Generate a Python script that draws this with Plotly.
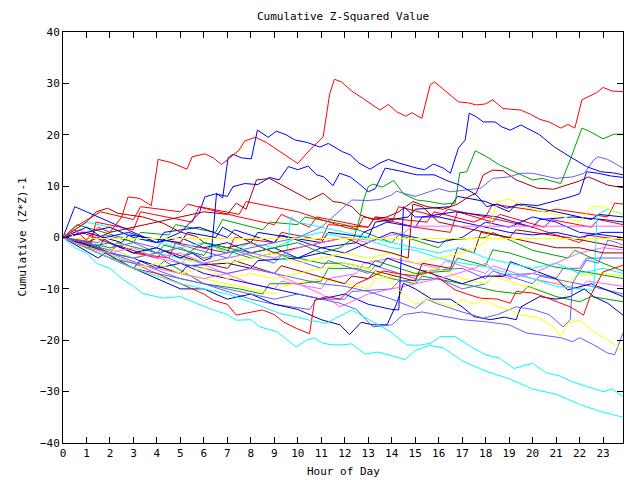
import plotly.graph_objects as go

HOUR_TICKS = list(range(24))

RED_TOP_H = [0,0.5,1,1.5,2,2.5,2.77,3.27,3.76,4.05,4.6,5.28,5.5,6.04,6.4,6.75,7.1,7.5,7.74,8.2,8.66,9.3,10.0,10.5,11.08,11.36,11.56,11.85,12.3,12.8,13.5,13.86,14.2,14.6,14.86,15.28,15.64,15.82,16.3,16.84,17.27,17.6,18.0,18.3,18.74,19.5,19.9,20.3,20.7,21.2,21.5,21.8,22.1,22.4,22.73,23.0,23.4,23.85]
RED_TOP_V = [0,1.5,-0.5,2,1,4,7.9,7.6,6.2,15.2,14.6,13.3,15.7,16.3,15.5,14.2,15.5,17,18.8,19.5,18.5,16.5,14.4,17,19.6,28,30.8,30.3,28.5,27,24.8,25.9,24.5,23.6,24.3,23.2,29.7,30.3,28.5,26.4,26.2,25.8,26,26.8,25.1,24.8,24,23,22.5,21.3,22,21.3,26.8,27.5,28.2,29.2,28.5,28.4]

BLUE_TOP_H = [0,1,2,3,4,5,5.5,6.0,6.3,6.45,6.54,6.8,7.03,7.24,7.6,8.02,8.28,8.74,9.09,9.5,9.87,10.4,10.94,11.3,11.9,12.23,12.6,13.08,13.5,13.86,14.3,15.07,15.4,15.78,16.2,16.5,16.84,17.13,17.3,17.6,17.9,18.4,18.7,19.05,19.5,20.3,20.9,21.6,22.3,22.9,23.4,23.85]
BLUE_TOP_V = [0,2,-1,-3,-2,-4,-3,-4.5,-4,4,8.6,7.7,15.5,16.2,15.5,15.3,20.9,19.5,20.7,20,19,18.5,17.6,18.3,16.7,16.1,14.5,13.3,14.5,15.2,14.5,13.5,13.2,14.3,13.5,12.5,17.4,19,24.2,23.5,22.5,22.5,21.5,20.9,21.9,20,17.7,15.7,13.8,12.8,12.6,12.2]

BLUE2_H = [0,1,2,3,4,5,5.8,6.04,6.5,7.0,7.24,7.74,8.3,8.8,9.2,9.6,10.0,10.44,10.8,11.1,11.5,11.78,12.23,12.6,13.0,13.3,13.72,14.3,15.07,15.8,16.4,16.9,17.6,18.05,18.5,18.9,19.5,20.2,20.9,21.6,22.0,22.3,22.8,23.3,23.85]
BLUE2_V = [0,1,2,0,-1,1,4.7,7.9,8.5,8,9.9,10.5,10.3,11.7,11.2,13.8,13.2,13.9,12.2,11.8,10.1,12.5,11.8,10.5,8.9,9.5,13.5,13,12.2,12.2,11,10.2,8.3,6,6.5,5.7,6.5,6.2,7,7.9,8.5,12.8,12.5,12,11.7]

DARKRED1_H = [0,1,2,3,4,5,6,7,7.38,7.8,8.24,8.8,9.4,9.94,10.5,11.08,11.5,11.85,12.3,12.65,13.2,13.8,14.3,14.9,15.5,16.2,16.8,17.3,17.6,17.9,18.3,18.74,19.3,19.7,20.2,20.9,21.5,22.0,22.38,22.8,23.2,23.85]
DARKRED1_V = [0,-1,1,2,3,4,5,4.5,6.7,5.5,11.2,11.5,10,8.6,7.3,8.6,7,6.8,6,4.4,3.5,4,5,7,6,5.5,6.5,8,8.6,12.2,13.1,13,11.2,10.5,9.6,9.4,10.2,11,11.8,11,10.2,9.7]

DARKRED2_H = [0,1,1.42,1.9,2.34,3.4,4.26,4.97,5.68,6,7,8,9,10,11,12,13,14,14.7,14.9,15.3,16,17,18,19,20,21,22,23,23.85]
DARKRED2_V = [0,3,5,5.7,4.7,4,2.8,1.1,0.2,-1,-2,-1,-3,-2,-1,0,-2,-3,-4,6.5,6,3,2,1,0,-1,-2,-2,-3,-3]

GREEN_TOP_H = [0,1,2,3,4,5,6,7,8,9,10,11,11.8,12.4,12.65,12.8,13.0,13.2,13.6,14.08,14.5,15.07,15.6,16.2,16.7,16.9,17.2,17.56,18.05,18.6,19.2,19.6,20.0,20.4,20.9,21.2,21.6,22.1,22.45,23.0,23.45,23.85]
GREEN_TOP_V = [0,-2,-1,-3,-2,-4,-1,-2,-3,-2,-1,-3,-2,0,4,7.3,9.9,10.4,9.8,11.1,8.5,7.3,7,6.5,6.7,12.6,12.8,16.9,15.7,14.1,12.8,12,11.2,11.5,10.9,10.5,15.1,21.3,20.6,19.2,20.1,20.1]

LBLUE_TOP_H = [0,1,2,3,4,5,6,7,8,9,10,11,12,12.3,13,13.5,14,14.2,15,16,16.5,17,17.8,18.3,19,19.5,20,21,21.7,22.2,22.6,22.8,23.2,23.85]
LBLUE_TOP_V = [0,-1,-2,-1,-3,-2,-4,-3,-2,-1,0,2,6,7.3,7.2,7.4,8.3,9,8,9.5,8.9,9.2,9.6,11.5,11.8,12.5,12.5,11.5,11.8,12.5,15.1,15.7,15.2,13.5]

CYAN_LOW_H = [0,0.5,1,1.42,2,2.5,3,3.4,4.26,5,5.68,6.4,7,7.38,8,8.38,9.09,9.66,9.94,10.36,10.7,11.08,11.5,11.85,12.3,12.87,13.4,13.93,14.57,15.0,15.6,16.2,16.5,17,18,19,20,21,22,23,23.85]
CYAN_LOW_V = [0,-2,-3,-5,-6,-8,-9.5,-10.9,-11.8,-11.5,-12.8,-14.1,-15,-16.1,-16,-17.4,-18.3,-20.3,-21.3,-20,-19.5,-20.6,-20.9,-20.9,-20.7,-22.7,-22.3,-22.9,-23.8,-22,-21,-21.5,-22.5,-24,-26,-27.5,-29.5,-30.5,-32.5,-34,-35]

CYAN_UP_H = [0,1,2,3,4,5,6,7,7.95,8.5,9.23,10,10.5,11.2,11.85,12.3,13.08,13.93,14.64,15.1,15.64,16.06,16.7,17.1,17.5,18.05,18.6,19.2,20,20.6,21.2,21.7,22.3,23,23.4,23.85]
CYAN_UP_V = [0,-2,-4,-6,-7.5,-9,-10,-11,-12.5,-13.5,-14.8,-15.5,-16.1,-16.7,-15.1,-14.1,-16.1,-18.3,-20.9,-21,-20.6,-19.3,-19.3,-20.5,-21.6,-22.9,-23.5,-25.5,-24.5,-26.4,-27,-28.1,-29,-30,-29.5,-31]

YELLOW_FLAT_H = [0,0.3,0.55,23.85]
YELLOW_FLAT_V = [0,0.8,-0.2,-0.2]

MAGENTA_FLAT_H = [0,1,2,3,4,5,6,7,8,9,10,11,12,13,14,14.5,14.86,23.85]
MAGENTA_FLAT_V = [0,-2,-3,-2,-4,-3,-5,-4,-3,-4,-2,-1,0,-1,0.5,0.8,2.2,2.2]

YELLOW_LOW_H = [0,1,2,3,4,5,6,7,8,9,10,11,12,13,13.5,14,14.6,15,15.6,16.6,17,17.5,18,18.5,19,19.5,20.2,20.9,21.2,21.5,22,22.5,23.2,23.85]
YELLOW_LOW_V = [0,-2,-4,-6,-5,-7,-6,-8,-7,-8,-7,-6,-5,-6,-7,-9,-11.5,-13,-12,-13.5,-12,-13,-12,-13.5,-14,-15.1,-15.5,-17.4,-19.3,-16.7,-16.1,-18,-20,-21.9]

LBLUE_LOW_H = [0,1,2,3,4,5,6,7,8,9,10,11,11.8,12.5,13.2,14,14.5,15.3,16,17,18,19,19.75,20.5,21.2,21.7,22,22.6,23.2,23.5,23.85]
LBLUE_LOW_V = [0,-2,-4,-5,-7,-8,-9,-10,-11,-12,-11,-12,-12.8,-14,-17.4,-17,-15,-14.5,-15.1,-16,-16.4,-17,-18.6,-19,-19.5,-20.3,-19.5,-20.9,-22.5,-22.8,-18.6]

LBLUE_JUMP_H = [0,1,2,3,4,5,6,7,8,9,10,11,12,13,14,15,15.5,16,17,17.9,18.5,19.3,20,20.7,21.3,21.6,21.7,22.3,22.8,23.2,23.6,23.85]
LBLUE_JUMP_V = [0,-1,-3,-4,-3,-5,-6,-7,-6,-7,-8,-9,-9.5,-10.5,-12,-13.8,-12,-13,-14.5,-15.7,-15,-13.5,-14,-15,-17.4,-16,-8.9,-4.4,-5,-0.5,-1,-1.5]

RED_LOW_H = [0,1,2,3,4,5,6,6.4,7,7.38,8,8.5,9,9.37,9.94,10.5,10.72,11.2,11.8,12.5,13,13.65,14.2,15,15.64,16.2,16.7,17.2,17.77,18.5,19.05,19.3,20,20.3,21,21.6,22.17,22.45,23,23.85]
RED_LOW_V = [0,-2,-4,-6,-7,-9,-11,-12.2,-13,-15.1,-14.5,-14.1,-15,-16.4,-17.7,-18.7,-12.2,-11.5,-12,-9,-8,-6.5,-7,-7.5,-6.7,-8.5,-10.2,-11,-11.8,-12,-12.8,-10.5,-10.8,-11.2,-12.5,-13.5,-15.1,-11.5,-6.7,-5.4]

RED_C1_H = [0,1.2,1.4,3,3.3,5.5,5.8,7.5,7.8,10,12,12.5,12.8,14,14.3,16,16.4,18,18.3,20.5,21,23.2,23.5,23.85]
RED_C1_V = [0,-1,3,1.5,5,3,6,4.5,7,5,2,1.5,4,3,6,4,5.5,4,6.5,5,5.5,4,6.7,6.5]
RED_C3_H = [0,0.8,3,4.5,4.8,7,7.3,9,9.3,11,11.3,13,13.3,15.5,15.8,17.5,18,20,22,22.3,23.85]
RED_C3_V = [0,1,-3,-4,-1,-3,0,-1,1,-0.5,2.5,2,4,3,5,3,4,2,-1,0.5,-0.5]
RED_C4_H = [0,0.5,1.6,3,3.3,5,5.3,7.5,9,9.3,10.5,10.8,13,13.3,15,16.5,16.8,18.3,18.6,20.5,20.8,22.5,22.8,23.85]
RED_C4_V = [0,2,5,3.5,6,5,6.5,4,2.5,4.5,2,4,2,4,2,1,5,3,4.5,2,3.5,2,3.5,2.5]
DARKRED3_H = [0,2,2.3,4,4.3,6,7,7.3,9,9.3,12,12.3,13,13.3,15,15.3,16.5,16.8,17.5,17.8,19,19.3,21.5,23.85]
DARKRED3_V = [0,-3,-1.5,-4,-2.5,-5,-6,-4.5,-7,-5.5,-9,-7.5,-8,-6.5,-8.5,-5,-6,-2,-3,1,0,1.5,0,-2]
GREEN1_H = [0,2,2.3,4,4.3,6,6.3,8,9,11,12,13,13.3,15,16.5,16.8,18,18.3,19,20.9,22,23.85]
GREEN1_V = [0,-2.5,-1,-3,-1.5,-3.5,-1.5,-4,-3,-5,-5,-6,-4.5,-7,-6.5,-4,-5.5,-2.4,-3,-5.7,-6.5,-8]
GREEN2_H = [0,3,4,4.3,6,7.5,8.5,8.8,10,11,11.3,12.5,14,15,15.3,17,18.5,19.5,19.8,21,22,22.5,23.85]
GREEN2_V = [0,-5,-6,-4.5,-9,-10,-11,-9,-9,-8.5,-6,-6,-8,-9,-7.5,-9,-10.5,-11,-9.5,-11.5,-12.5,-11.5,-12.5]
GREEN3_H = [0,0.6,2.5,3,3.3,4.5,4.8,6.5,6.8,8.5,8.8,10,10.3,12,14,14.3,16,16.3,18,18.3,20,21.5,21.8,23,23.85]
GREEN3_V = [0,2.5,0,-1,1,0.5,2.5,1,3.5,1.5,3,2.5,4,2.5,-1,0.5,-2,-0.5,0,1,-2.5,-4,-2.5,-5,-6.5]

BLUE3_H = [0,0.5,1,2,3,4,5,6,7,8,9,10,11,12,13,14,15,16,17,18,19,20,21,22,23,23.85]
BLUE3_V = [0,6,5,3,1,-1,0,-2,-1,-3,-2,-4,-2,-3,-1,1,0,-1,0,3,2,4,3,1,0.5,0]
BLUE4_H = [0,1,2,3,4,5,6,7,8,9,10,11,12,13,14,14.3,14.5,15,16,17,18,19,20,21,22,23,23.85]
BLUE4_V = [0,-1,-3,-4,-6,-5,-7,-8,-9,-10,-11,-12,-11,-13,-14,-14.1,6,4,4,3,2,1,0.5,1,0,1,1]
BLUE5_H = [0,1.5,1.8,2.8,4,4.3,5.8,7,7.3,9,9.3,11,12.5,12.8,13.8,15,15.3,16.7,18.5,20,20.3,21.7,23,23.85]
BLUE5_V = [0,-2,0,1,-1,1,2,0,1.5,-1,0.5,-2,-1,1,3,2,4,5,4,2,3.5,4,3.5,3]

NAVY1_H = [0,1,2,3,4,5,6,7,8,9,10,11,11.8,12.2,12.7,13.2,13.8,14.2,14.5,15,15.7,16.5,17,17.5,18.2,18.8,19.3,19.5,20.3,21,21.6,22.2,22.6,23.2,23.85]
NAVY1_V = [0,-2,-4,-6,-8,-10,-10,-12,-11,-13,-14,-16,-17,-18.9,-16.5,-17,-17,-13,-8.9,-10,-12,-12,-13.5,-15.4,-16,-15.5,-16,-13.5,-11.5,-12,-11.5,-10,-11.5,-12.8,-15.1]
NAVY2_H = [0,1.5,1.8,3,3.3,5,5.3,7,8,8.3,10,11,13,13.5,13.8,15,17,18,18.8,19.05,21,21.5,22.5,23.85]
NAVY2_V = [0,-4,-3,-6,-4.5,-7,-5.5,-5,-6,-4.5,-4,-3,-5,-5.7,-4,-6,-9,-7.5,-7.6,-4.7,-8,-10.2,-9,-11.5]
NAVY3_H = [0,1,2.5,2.8,5,5.3,6.5,6.8,8,8.3,11,11.3,13,13.3,14.7,15,16.5,16.8,18,19,19.3,21,22.5,22.8,23.85]
NAVY3_V = [0,1,-1,0.5,-1,1,0,2,-1,1,-1,1,0,3,4,5.5,6,8,7,5,6.5,5,3.5,4.5,4]

MAGENTA2_H = [0,1,2,3,4,5,6,7,8,9,10,11,11.8,12.5,13,14,15,16,16.8,17.5,18,18.5,19,20,21,22,23,23.85]
MAGENTA2_V = [0,-2,-4,-5,-6,-7,-8,-7,-6,-7,-9,-11,-13.5,-12,-11,-10,-9,-8,-7,-6,-5,-7,-8,-7,-5,-3,-2,-2.4]
MAGENTA3_H = [0,0.7,3,5,5.3,8,9,9.3,11,11.3,12.5,12.8,14,16,16.3,18,18.3,20,22,22.3,23.85]
MAGENTA3_V = [0,1.5,-3,-5,-4,-9,-10,-8.5,-10,-8,-7,-5,-4,-6,-4.5,-7,-5.5,-8,-10,-8.5,-9.5]

CYAN3_H = [0,1,2,3,4,5,6,7,8,9,10,11,12,13,14,15,16,17,18,19,20,21,22,22.6,22.75,23.2,23.85]
CYAN3_V = [0,3,2,0,-1,-2,-1,-3,-1,-2,0,1,0,-0.5,-2,-2.5,-4,-5,-5.7,-7,-8,-9.5,-10,-10.3,4.4,5.5,4.5]
CYAN4_H = [0,1,2,3,4,5,6,7,8,9,9.5,9.7,10,11,12,13,14,15,16,17,18,19,20,21,22,23,23.85]
CYAN4_V = [0,-1,-2,-4,-3,-4,-5,-4,-3,-4,-4.4,4,3,2,1,0,-1,-2,-3,-2,-4,-5,-6,-5,-7,-6,-7]

YELLOW3_H = [0,1,2,3,4,5,6,7,8,9,10,11,12,13,14,15,16,17,18,18.5,19,20,21,22,22.5,23,23.85]
YELLOW3_V = [0,-1,-2,-4,-3,-5,-4,-5,-4,-3,-5,-4,-3,-4,-3,-5,-4,-3,-1,7,7.5,5.5,4.5,3,6,6,4.5]
YELLOW2_H = [0,3,5,7,9,9.3,11,13,13.3,15,16,17,18,18.3,20,20.3,21.5,21.8,23,23.85]
YELLOW2_V = [0,-5,-7,-9,-11,-9.5,-8,-10,-8,-7,-6,-8,-9,-7.5,-10,-8.5,-9,-7.5,-7,-7.5]
LBLUE4_H = [0,1.5,1.8,4,4.3,7,7.3,9,9.3,11,11.3,13,13.3,15,15.3,17,18,18.3,20,20.3,22.5,23.85]
LBLUE4_V = [0,-1,0.5,-2,-0.5,-4,-2.5,-5,-3.5,-6,-4.5,-7,-5.5,-8,-6.5,-6,-8,-6.5,-9,-7.5,-9.5,-11]
LBLUE5_H = [0,2,5,6,8,9,10.5,10.8,12,12.3,14,14.3,16,17,18,18.3,20,21,21.3,22,22.3,23.85]
LBLUE5_V = [0,-3,-8,-9,-12,-13,-14,-12,-12,-10.5,-10,-8.5,-8,-10,-9,-7.5,-7,-8,-6,-6,-4,-4]

RED = "#ff0000"
DKRED = "#a00000"
GREEN = "#00a000"
BLUE = "#0000ff"
NAVY = "#0000a0"
LBLUE = "#6060ff"
MAGENTA = "#ff60ff"
CYAN = "#00ffff"
YELLOW = "#ffff00"

series = [
    (GREEN2_H, GREEN2_V, GREEN), (LBLUE4_H, LBLUE4_V, LBLUE), (LBLUE5_H, LBLUE5_V, LBLUE),
    (YELLOW2_H, YELLOW2_V, YELLOW), (MAGENTA3_H, MAGENTA3_V, MAGENTA), (NAVY2_H, NAVY2_V, NAVY),
    (GREEN1_H, GREEN1_V, GREEN), (GREEN3_H, GREEN3_V, GREEN), (DARKRED3_H, DARKRED3_V, DKRED),
    (RED_C4_H, RED_C4_V, RED), (RED_C3_H, RED_C3_V, RED), (RED_C1_H, RED_C1_V, RED),
    (BLUE5_H, BLUE5_V, BLUE), (NAVY3_H, NAVY3_V, NAVY),
    (BLUE3_H, BLUE3_V, BLUE), (BLUE4_H, BLUE4_V, BLUE),
    (MAGENTA2_H, MAGENTA2_V, MAGENTA), (CYAN3_H, CYAN3_V, CYAN), (CYAN4_H, CYAN4_V, CYAN),
    (YELLOW3_H, YELLOW3_V, YELLOW), (NAVY1_H, NAVY1_V, NAVY),
    (LBLUE_JUMP_H, LBLUE_JUMP_V, LBLUE), (LBLUE_LOW_H, LBLUE_LOW_V, LBLUE),
    (YELLOW_LOW_H, YELLOW_LOW_V, YELLOW), (RED_LOW_H, RED_LOW_V, RED),
    (CYAN_UP_H, CYAN_UP_V, CYAN), (CYAN_LOW_H, CYAN_LOW_V, CYAN),
    (DARKRED2_H, DARKRED2_V, DKRED), (DARKRED1_H, DARKRED1_V, DKRED),
    (LBLUE_TOP_H, LBLUE_TOP_V, LBLUE), (GREEN_TOP_H, GREEN_TOP_V, GREEN),
    (BLUE2_H, BLUE2_V, BLUE), (BLUE_TOP_H, BLUE_TOP_V, BLUE),
    (MAGENTA_FLAT_H, MAGENTA_FLAT_V, MAGENTA), (YELLOW_FLAT_H, YELLOW_FLAT_V, YELLOW),
    (RED_TOP_H, RED_TOP_V, RED),
]

FONT = "DejaVu Sans Mono"

fig = go.Figure()
for xs, ys, col in series:
    fig.add_trace(go.Scatter(x=xs, y=ys, mode="lines",
                             line=dict(color=col, width=1),
                             showlegend=False, hoverinfo="skip"))

axis_common = dict(showgrid=False, zeroline=False, showline=True, linecolor="black",
                   linewidth=1, ticks="inside", ticklen=6, tickcolor="black",
                   mirror="ticks", tickfont=dict(family=FONT, size=11, color="black"))

fig.update_layout(
    width=640, height=480,
    margin=dict(l=63, r=17, t=32, b=37),
    paper_bgcolor="white", plot_bgcolor="white",
    title=dict(text="Cumulative Z-Squared Value", x=0.536, xanchor="center",
               y=1 - 16 / 480, yanchor="middle", yref="container",
               font=dict(family=FONT, size=11, color="black")),
    xaxis=dict(range=[0, 23.85], tickvals=HOUR_TICKS, ticktext=[str(h) for h in HOUR_TICKS],
               **axis_common),
    yaxis=dict(range=[-40, 40], tickvals=list(range(-40, 41, 10)), **axis_common),
    annotations=[
        dict(text="Hour of Day", xref="paper", yref="paper", x=0.5, y=0,
             yshift=-28, showarrow=False, yanchor="middle",
             font=dict(family=FONT, size=11, color="black")),
        dict(text="Cumulative (Z*Z)-1", xref="paper", yref="paper", x=0, y=0.5,
             xshift=-41, showarrow=False, textangle=-90, xanchor="center",
             font=dict(family=FONT, size=11, color="black")),
    ],
)

fig.write_html("out.html")
